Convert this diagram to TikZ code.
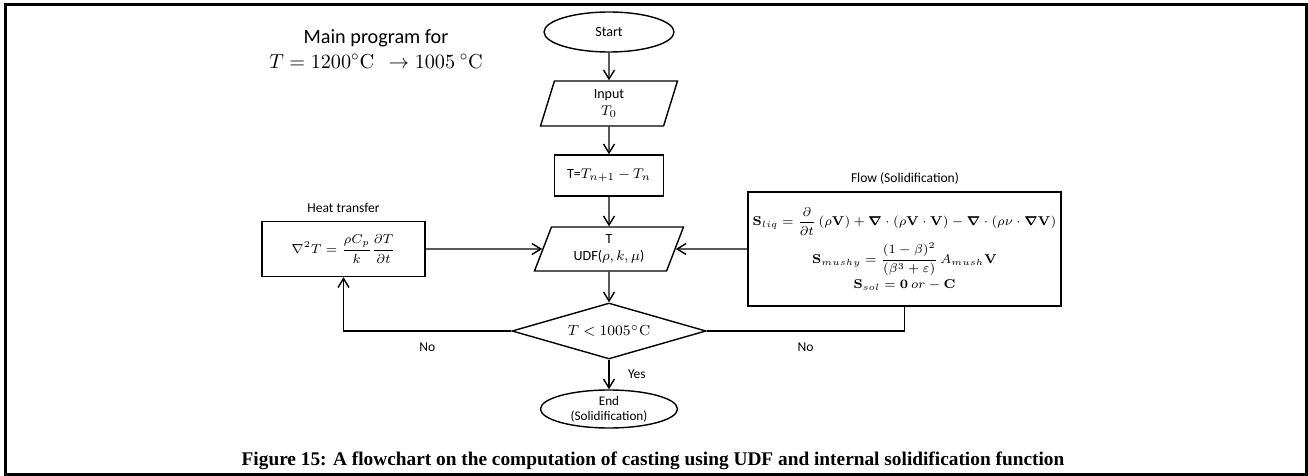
\RequirePackage{fix-cm}
\documentclass[tikz,border=0pt]{standalone}
\usepackage{amsmath,bm}
\usepackage[no-math]{fontspec}
\setmainfont{Carlito}
\newfontfamily\capfont{Liberation Serif}
\usetikzlibrary{arrows.meta}
\usetikzlibrary{shapes.geometric}

\begin{document}
\begin{tikzpicture}[x=0.02cm, y=-0.02cm, thick, >={Straight Barb[length=1.8mm,width=2.2mm]},
    term/.style = {draw, ellipse, align=center, inner sep=0pt, font=\fontsize{8}{9.5}\selectfont},
    io/.style = {draw, trapezium, trapezium stretches body, align=center, inner sep=0pt, font=\fontsize{8}{10}\selectfont},
    proc/.style = {draw, rectangle, align=center, inner sep=0pt, font=\fontsize{8}{10}\selectfont},
    decide/.style = {draw, diamond, aspect=3.4, inner sep=0pt, font=\fontsize{8.3}{10}\selectfont},
    note/.style = {font=\fontsize{7.7}{9}\selectfont}]

    \useasboundingbox (0,0) rectangle (1308,476);
    \draw[line width=1.7pt] (5.5,4.5) rectangle (1306.5,474.5);

    \node [align=center, font=\fontsize{11.5}{14}\selectfont] (title) at (376,49)
        {Main program for\\ $T = 1200^{\circ}\mathrm{C}\ \ \rightarrow 1005\ ^{\circ}\mathrm{C}$};

    \node [term, minimum width=26mm, minimum height=8mm] (start) at (609,32) {Start};
    \node [io, trapezium left angle=64, trapezium right angle=116, minimum width=27.4mm, minimum height=9mm] (input) at (609,103.5) {Input\\ $T_0$};
    \node [proc, minimum width=21.8mm, minimum height=8.2mm] (tbox) at (609,175.5) {T=$T_{n+1} - T_n$};
    \node [io, trapezium left angle=60, trapezium right angle=120, minimum width=29.8mm, minimum height=8.8mm] (udf) at (609,249) {T\\ UDF($\rho, k, \mu$)};
    \node [decide, minimum width=38.8mm, minimum height=11.2mm] (dec) at (609,331) {$T < 1005^{\circ}\mathrm{C}$};
    \node [term, minimum width=27.4mm, minimum height=7.6mm, font=\fontsize{7.5}{8.5}\selectfont] (end) at (609,409) {End\\ (Solidification)};

    \node [proc, minimum width=32.6mm, minimum height=11mm, font=\fontsize{7.4}{9}\selectfont] (heat) at (343.5,249) {$\nabla^2 T = \dfrac{\rho C_p}{k}\dfrac{\partial T}{\partial t}$};
    \node [note] (heattitle) at (343.5,208) {Heat transfer};

    \node [proc, minimum width=62.6mm, minimum height=22.8mm, font=\fontsize{7.3}{9}\selectfont] (flow) at (904.5,249) {%
        $\mathbf{S}_{liq} = \dfrac{\partial}{\partial t}\,(\rho\mathbf{V}) + \bm{\nabla}\cdot(\rho\mathbf{V}\cdot\mathbf{V}) - \bm{\nabla}\cdot(\rho\nu\cdot\bm{\nabla}\mathbf{V})$\\[3pt]
        $\mathbf{S}_{mushy} = \dfrac{(1-\beta)^2}{(\beta^3+\varepsilon)}\,A_{mush}\mathbf{V}$\\[1pt]
        $\mathbf{S}_{sol} = \mathbf{0}\ or - \mathbf{C}$};
    \node [note] (flowtitle) at (905,178) {Flow (Solidification)};

    \node [font=\capfont\bfseries\fontsize{11}{13}\selectfont] (caption) at (653,461)
        {Figure 15: A flowchart on the computation of casting using UDF and internal solidification function};

    \draw[->] (start) -- (input);
    \draw[->] (input) -- (tbox);
    \draw[->] (tbox) -- (udf);
    \draw[->] (udf) -- (dec);
    \draw[->] (dec) -- node[note, right=2.5mm] {Yes} (end);
    \draw[->] (heat) -- (udf);
    \draw[->] (flow) -- (udf);
    \draw[->] (dec.west) -| node[note, pos=0.25, below=1mm] {No} (heat.south);
    \draw (dec.east) -| node[note, pos=0.25, below=1mm] {No} (flow.south);

\end{tikzpicture}
\end{document}
